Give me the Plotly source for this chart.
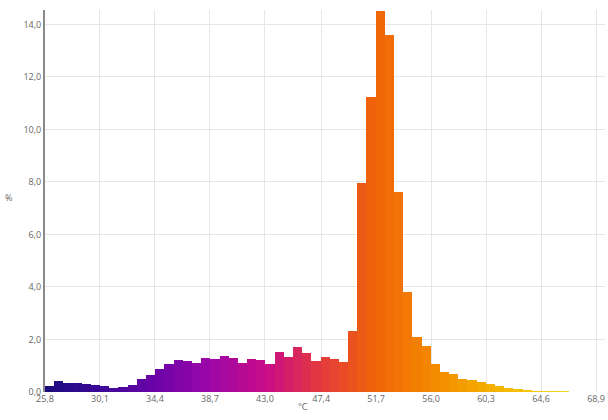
import plotly.graph_objects as go
from plotly.colors import sample_colorscale

# ---- data ----
bin_start = 25.8
bin_width = 43.1 / 60
values = [0.21, 0.41, 0.34, 0.33, 0.31, 0.25, 0.22, 0.15, 0.20, 0.25,
          0.48, 0.65, 0.86, 1.07, 1.22, 1.18, 1.12, 1.30, 1.25, 1.37,
          1.29, 1.10, 1.25, 1.21, 1.05, 1.52, 1.33, 1.71, 1.48, 1.19,
          1.35, 1.27, 1.16, 2.31, 7.95, 11.25, 14.5, 13.6, 7.6, 3.8,
          2.08, 1.74, 1.06, 0.78, 0.70, 0.51, 0.44, 0.40, 0.31, 0.22,
          0.16, 0.12, 0.08, 0.05, 0.03, 0.02, 0.02, 0.01, 0.01, 0.01]
x_tickvals = [25.8, 30.1, 34.4, 38.7, 43.0, 47.4, 51.7, 56.0, 60.3, 64.6, 68.9]
x_ticktext = ["25,8", "30,1", "34,4", "38,7", "43,0", "47,4", "51,7", "56,0", "60,3", "64,6", "68,9"]
y_tickvals = [0, 2, 4, 6, 8, 10, 12, 14]
y_ticktext = ["0,0", "2,0", "4,0", "6,0", "8,0", "10,0", "12,0", "14,0"]

# ---- style ----
scale = [
    [0.00, "#1a0c7c"],
    [0.10, "#3c0898"],
    [0.20, "#6a04a8"],
    [0.30, "#9c06a8"],
    [0.40, "#c80c88"],
    [0.50, "#e43a3c"],
    [0.60, "#f06408"],
    [0.70, "#f48800"],
    [0.80, "#f4ac00"],
    [0.90, "#f6cc10"],
    [1.00, "#f8e030"],
]
n = len(values)
centers = [bin_start + bin_width * (i + 0.5) for i in range(n)]
colors = sample_colorscale(scale, [(i + 0.5) / n for i in range(n)])

fig = go.Figure(go.Bar(
    x=centers, y=values, width=[bin_width] * n,
    marker=dict(color=colors, line=dict(width=0)),
    hoverinfo="skip",
))

W, H = 608, 420
ML, MR, MT, MB = 45, 3, 10, 28
font = dict(family="Open Sans, Noto Sans, sans-serif", size=9, color="#666666")
fig.update_layout(
    width=W, height=H,
    margin=dict(l=ML, r=MR, t=MT, b=MB),
    plot_bgcolor="white", paper_bgcolor="white",
    bargap=0, showlegend=False,
    font=font,
    xaxis=dict(range=[25.8, 69.6], tickvals=x_tickvals, ticktext=x_ticktext,
               showgrid=True, gridcolor="#e6e6e6", gridwidth=1,
               zeroline=False, showline=False, ticks="", tickfont=font,
               ticklabeloverflow="allow"),
    yaxis=dict(range=[0, 14.55], tickvals=y_tickvals, ticktext=y_ticktext,
               showgrid=True, gridcolor="#e6e6e6", gridwidth=1,
               zeroline=False, showline=True, linecolor="#8a8a8a", linewidth=2,
               ticks="", tickfont=font),
)
pw = W - ML - MR
ph = H - MT - MB

def paper_xy(px, py):
    return (px - ML) / pw, (H - MB - py) / ph

ax, ay = paper_xy(8, 197)
bx, by = paper_xy(303, 406)
fig.add_annotation(text="%", x=ax, y=ay, xref="paper", yref="paper",
                   showarrow=False, xanchor="center", yanchor="middle", font=font)
fig.add_annotation(text="°C", x=bx, y=by, xref="paper", yref="paper",
                   showarrow=False, xanchor="center", yanchor="middle", font=font)

fig.write_html(
    "out.html",
    config={"displayModeBar": False, "staticPlot": True},
    post_script="document.body.style.margin='0';document.body.style.overflow='hidden';",
)
